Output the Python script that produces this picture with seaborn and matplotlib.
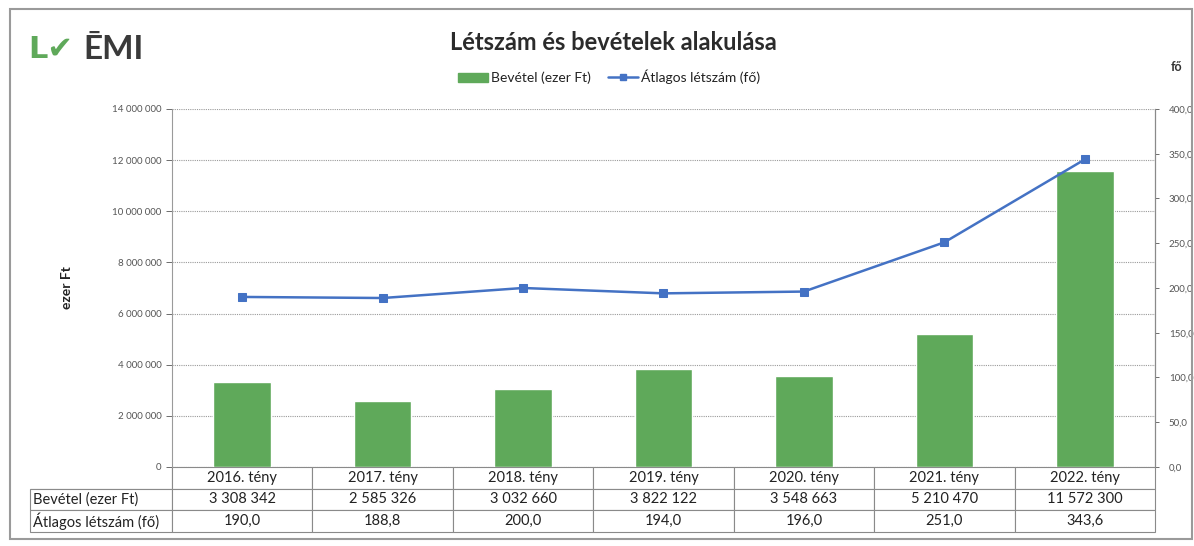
import numpy as np
import matplotlib
matplotlib.use("Agg")
import matplotlib.pyplot as plt
import matplotlib.ticker as mticker
from matplotlib.patches import Rectangle, Patch
from matplotlib.lines import Line2D
import seaborn as sns

# data
years = ["2016. tény", "2017. tény", "2018. tény", "2019. tény",
         "2020. tény", "2021. tény", "2022. tény"]
bevetel = [3308342, 2585326, 3032660, 3822122, 3548663, 5210470, 11572300]
letszam = [190.0, 188.8, 200.0, 194.0, 196.0, 251.0, 343.6]
row_labels = ["Bevétel (ezer Ft)", "Átlagos létszám (fő)"]

GREEN = "#5fa95a"
BLUE = "#4472c4"

sns.set_style("white")
plt.rcParams["font.family"] = ["Lato", "DejaVu Sans"]


def space_thousands(v):
    return f"{int(round(v)):,}".replace(",", " ")


def comma_dec(v):
    return f"{v:.1f}".replace(".", ",")


fig = plt.figure(figsize=(11.94, 5.46), dpi=100)
ax = fig.add_axes([0.144, 0.1447, 0.8233, 0.6557])

sns.barplot(x=years, y=bevetel, color=GREEN, width=0.41, saturation=1,
            ax=ax, zorder=3)
ax.set_ylim(0, 14_000_000)
ax.set_xlim(-0.5, len(years) - 0.5)
ax.yaxis.set_major_locator(mticker.MultipleLocator(2_000_000))
ax.yaxis.set_major_formatter(mticker.FuncFormatter(lambda v, p: space_thousands(v)))
ax.tick_params(axis="y", labelsize=7, colors="#555555", length=4, width=0.6,
               direction="out", left=True)
ax.tick_params(axis="x", bottom=False, labelbottom=False)
ax.yaxis.grid(True, linestyle=(0, (1, 1)), color="#9a9a9a", lw=0.8, zorder=0)
ax.set_axisbelow(True)
for side in ["top", "bottom", "right"]:
    ax.spines[side].set_visible(False)
ax.spines["left"].set_color("#9a9a9a")
ax.spines["left"].set_linestyle((0, (1, 1)))
ax.spines["left"].set_linewidth(0.8)
ax.set_ylabel("ezer Ft", fontsize=10, fontweight="bold", color="#222222",
              labelpad=28)
ax.set_xlabel("")

ax2 = ax.twinx()
sns.lineplot(x=years, y=letszam, ax=ax2, color=BLUE, marker="s",
             markersize=6, markeredgecolor=BLUE, lw=1.8, sort=False, zorder=4)
ax2.set_ylim(0, 400)
ax2.set_xlim(-0.5, len(years) - 0.5)
ax2.yaxis.set_major_locator(mticker.MultipleLocator(50))
ax2.yaxis.set_major_formatter(mticker.FuncFormatter(lambda v, p: comma_dec(v)))
ax2.tick_params(axis="y", labelsize=7, colors="#555555", length=3, width=0.6,
                direction="out", right=True, pad=7)
for side in ["top", "bottom", "left"]:
    ax2.spines[side].set_visible(False)
ax2.spines["right"].set_color("#8a8a8a")
ax2.spines["right"].set_linewidth(0.9)
ax2.set_ylabel("")
ax2.set_xlabel("")

# data table below the plot
cell_text = [[""] + years,
             [row_labels[0]] + [space_thousands(v) for v in bevetel],
             [row_labels[1]] + [comma_dec(v) for v in letszam]]
w_first = 142 / 983
tbl = ax.table(cellText=cell_text, cellLoc="center",
               colWidths=[w_first] + [1 / len(years)] * len(years),
               bbox=[-w_first, -65 / 358, 1 + w_first, 65 / 358])
tbl.auto_set_font_size(False)
tbl.set_fontsize(10.5)
for (r, c), cell in tbl.get_celld().items():
    cell.set_edgecolor("#8a8a8a")
    cell.set_linewidth(0.8)
    cell.get_text().set_color("#222222")
    if c == 0:
        cell.get_text().set_ha("left")
        cell.PAD = 0.02
    if r == 0 and c == 0:
        cell.visible_edges = "BR"

# title, legend, extras
fig.text(0.514, 0.923, "Létszám és bevételek alakulása", ha="center",
         va="center", fontsize=17, fontweight="bold", color="#2b2b2b")
handles = [Patch(facecolor=GREEN, edgecolor=GREEN),
           Line2D([0], [0], color=BLUE, marker="s", markersize=5, lw=1.8)]
fig.legend(handles, ["Bevétel (ezer Ft)", "Átlagos létszám (fő)"],
           loc="center", bbox_to_anchor=(0.51, 0.859), ncol=2, frameon=False,
           fontsize=10, handlelength=2.2, handletextpad=0.2, columnspacing=1.2,
           labelcolor="#222222")
fig.text(0.99, 0.878, "fő", ha="right", va="center", fontsize=9,
         fontweight="bold", color="#333333")

# logo
fig.text(0.024, 0.91, "L✔", ha="left", va="center", fontsize=22,
         fontweight="bold", color=GREEN, family="DejaVu Sans")
fig.text(0.07, 0.91, "ĒMI", ha="left", va="center", fontsize=24,
         fontweight="bold", color="#3a3a3a")

# outer frame
fig.patches.append(Rectangle((0.008, 0.012), 0.99, 0.972, transform=fig.transFigure,
                             fill=False, edgecolor="#9a9a9a", lw=1.5))

fig.savefig("out.png", dpi=100)
